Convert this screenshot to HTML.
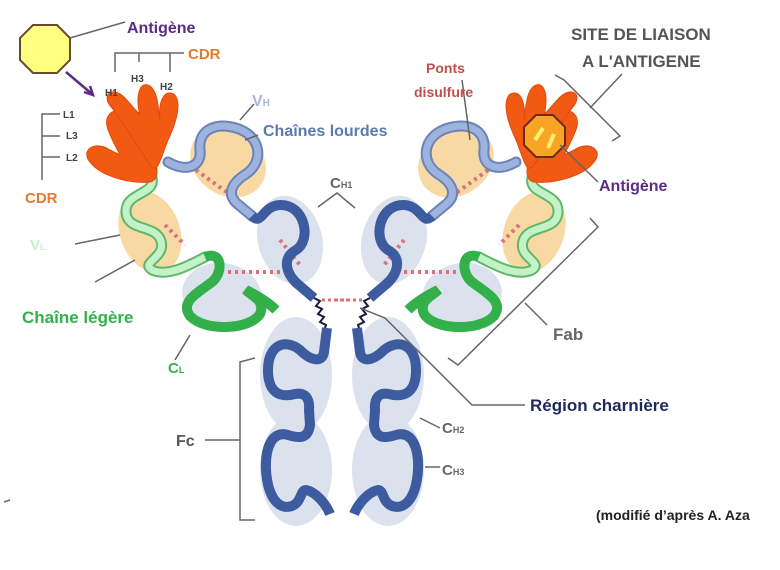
<!DOCTYPE html>
<html><head><meta charset="utf-8"><style>
html,body{margin:0;padding:0;background:#fff;width:780px;height:570px;overflow:hidden}
svg{display:block}
text{font-family:"Liberation Sans",sans-serif;font-weight:bold}
</style></head><body>
<svg width="780" height="570" viewBox="0 0 780 570" xmlns="http://www.w3.org/2000/svg">
<defs>
<g id="arm">
  <ellipse cx="228" cy="162" rx="40" ry="33" transform="rotate(35 228 162)" fill="#f8d9a4"/>
  <ellipse cx="150" cy="232" rx="30" ry="42" transform="rotate(-20 150 232)" fill="#f8d9a4"/>
  <ellipse cx="290" cy="240" rx="32" ry="45" transform="rotate(-15 290 240)" fill="#dbe2ee"/>
  <ellipse cx="222" cy="295" rx="40" ry="32" transform="rotate(10 222 295)" fill="#dbe2ee"/>
  <path d="M196,170 L232,196" stroke="#d9707a" stroke-width="4" stroke-dasharray="3 4" fill="none"/>
  <path d="M165,225 L185,245" stroke="#d9707a" stroke-width="4" stroke-dasharray="3 4" fill="none"/>
  <path d="M280,240 L300,265" stroke="#d9707a" stroke-width="4" stroke-dasharray="3 4" fill="none"/>
  <path d="M228,272 L285,272" stroke="#d9707a" stroke-width="4" stroke-dasharray="3 4" fill="none"/>
  <path d="M168,162 C185,172 202,168 200,150 C198,130 215,122 236,128 C262,136 264,162 246,174 C230,184 226,196 240,206 L252,216" stroke="#6a84b8" stroke-width="11" fill="none" stroke-linecap="round"/>
  <path d="M168,162 C185,172 202,168 200,150 C198,130 215,122 236,128 C262,136 264,162 246,174 C230,184 226,196 240,206 L252,216" stroke="#9db3dd" stroke-width="7" fill="none" stroke-linecap="round"/>
  <path d="M252,216 C262,226 262,206 280,205 C305,204 312,240 296,250 C281,258 286,275 300,286 L314,298" stroke="#3d5b9f" stroke-width="10" fill="none" stroke-linecap="butt"/>
  <path d="M314,298 l6,3 -4,5 6,3 -4,5 6,3 -4,5 6,3 -2,6" stroke="#1a1a3a" stroke-width="2" fill="none"/>
  <path d="M322,300 L350,300" stroke="#d9707a" stroke-width="3" stroke-dasharray="3 3"/>
  <path d="M152,178 C156,195 125,192 126,212 C127,232 156,224 161,241 C166,258 140,262 152,270 C167,277 188,266 205,257" stroke="#5fb86a" stroke-width="11" fill="none" stroke-linecap="round"/>
  <path d="M152,178 C156,195 125,192 126,212 C127,232 156,224 161,241 C166,258 140,262 152,270 C167,277 188,266 205,257" stroke="#c4f2c8" stroke-width="7" fill="none" stroke-linecap="round"/>
  <path d="M205,257 C222,250 224,272 212,282 C196,294 180,302 190,316 C205,332 250,330 260,314 C266,300 250,295 246,290 C258,296 268,302 276,310" stroke="#34b04a" stroke-width="10" fill="none"/>
  <g fill="#f25a14" stroke="#e04a0a" stroke-width="1">
    <path d="M90,162 C80,150 95,140 110,150 L120,155 C110,135 100,120 112,112 C122,108 130,130 138,145 C132,120 140,100 150,108 C158,118 152,140 152,152 C158,165 160,180 150,182 C130,184 100,176 90,162Z"/>
    <path d="M112,108 C100,95 112,85 125,98 L140,115 C135,95 140,80 150,86 C158,92 158,108 160,120 C158,100 165,88 175,95 C182,105 175,125 168,140 C160,160 158,175 150,165 C140,150 125,125 112,108Z"/>
  </g>
</g>
<path id="fc" d="M327,328 L324,352 C322,364 310,360 300,350 C285,338 268,345 268,370 C268,393 280,398 295,394 C305,392 310,398 309,410 L310,425 C308,440 298,438 288,435 C272,430 265,448 266,470 C268,500 280,510 292,506 C302,502 300,490 306,490 C316,492 326,504 330,514" stroke="#3d5b9f" stroke-width="10" fill="none"/>
</defs>

<use href="#arm"/>
<g transform="translate(684,0) scale(-1,1)"><use href="#arm"/></g>

<polygon points="536,115 553,115 565,127 565,145 553,157 536,157 524,145 524,127" fill="#f8a526" stroke="#6b2b1a" stroke-width="2"/>
<path d="M535,140 l8,-12 M548,148 l6,-14" stroke="#ffef70" stroke-width="4"/>

<ellipse cx="296" cy="375" rx="36" ry="58" fill="#dbe2ee"/>
<ellipse cx="296" cy="470" rx="36" ry="56" fill="#dbe2ee"/>
<ellipse cx="388" cy="375" rx="36" ry="58" fill="#dbe2ee"/>
<ellipse cx="388" cy="470" rx="36" ry="56" fill="#dbe2ee"/>
<use href="#fc"/>
<g transform="translate(684,0) scale(-1,1)"><use href="#fc"/></g>

<polygon points="33,25 57,25 70,38 70,60 57,73 33,73 20,60 20,38" fill="#ffff80" stroke="#6b4a2a" stroke-width="2"/>
<path d="M70,38 L125,22" stroke="#666" stroke-width="1.5"/>
<path d="M66,72 L92,94" stroke="#5b2c83" stroke-width="2.5"/>
<path d="M84,92 L93,95 L90,86" stroke="#5b2c83" stroke-width="2.5" fill="none"/>

<g stroke="#666" stroke-width="1.5" fill="none">
<path d="M184,53 L115,53 L115,72 M139,53 L139,62 M170,53 L170,72"/>
<path d="M60,114 L42,114 L42,180 M42,136 L60,136 M42,157 L60,157"/>
<path d="M240,120 L254,104"/>
<path d="M258,135 L245,140"/>
<path d="M318,207 L337,193 L355,208"/>
<path d="M462,80 L470,140"/>
<path d="M555,75 L564,80 L620,136 L612,141"/>
<path d="M590,108 L622,74"/>
<path d="M560,145 L598,182"/>
<path d="M590,218 L598,227 L458,365 L448,358"/>
<path d="M525,303 L547,325"/>
<path d="M360,308 L385,318 L472,405 L525,405"/>
<path d="M255,358 L240,362 L240,520 L255,520 M240,440 L205,440"/>
<path d="M75,244 L120,235"/>
<path d="M175,360 L190,335"/>
<path d="M420,418 L440,428"/>
<path d="M425,467 L440,467"/>
<path d="M95,282 L135,260"/>
<path d="M4,502 L10,500"/>
</g>

<text x="127" y="33" font-size="16" fill="#5b2c83">Antigène</text>
<text x="188" y="59" font-size="15" fill="#e27a2e">CDR</text>
<text x="105" y="96" font-size="10" fill="#444">H1</text>
<text x="131" y="82" font-size="10" fill="#444">H3</text>
<text x="160" y="90" font-size="10" fill="#444">H2</text>
<text x="63" y="118" font-size="10" fill="#444">L1</text>
<text x="66" y="139" font-size="10" fill="#444">L3</text>
<text x="66" y="161" font-size="10" fill="#444">L2</text>
<text x="25" y="203" font-size="15" fill="#e27a2e">CDR</text>
<text x="252" y="106" font-size="16" fill="#a9b8d8" font-weight="normal">V<tspan font-size="10">H</tspan></text>
<text x="263" y="136" font-size="16" fill="#5a7bb0">Chaînes lourdes</text>
<text x="330" y="188" font-size="15" fill="#666" font-weight="normal">C<tspan font-size="9">H1</tspan></text>
<text x="426" y="73" font-size="14" fill="#c0504d">Ponts</text>
<text x="414" y="97" font-size="14" fill="#c0504d">disulfure</text>
<text x="571" y="40" font-size="17" fill="#555">SITE DE LIAISON</text>
<text x="582" y="67" font-size="17" fill="#555">A L'ANTIGENE</text>
<text x="599" y="191" font-size="16" fill="#5b2c83">Antigène</text>
<text x="30" y="250" font-size="15" fill="#c4f2c8" font-weight="normal">V<tspan font-size="9">L</tspan></text>
<text x="22" y="323" font-size="17" fill="#34b04a">Chaîne légère</text>
<text x="168" y="373" font-size="15" fill="#34b04a">C<tspan font-size="9">L</tspan></text>
<text x="553" y="340" font-size="17" fill="#666">Fab</text>
<text x="530" y="411" font-size="17" fill="#1f2a5c">Région charnière</text>
<text x="176" y="446" font-size="16" fill="#555" font-weight="normal">Fc</text>
<text x="442" y="433" font-size="15" fill="#666" font-weight="normal">C<tspan font-size="9">H2</tspan></text>
<text x="442" y="475" font-size="15" fill="#666" font-weight="normal">C<tspan font-size="9">H3</tspan></text>
<text x="596" y="520" font-size="14" fill="#222" font-weight="normal">(modifié d’après A. Aza</text>
</svg>
</body></html>
